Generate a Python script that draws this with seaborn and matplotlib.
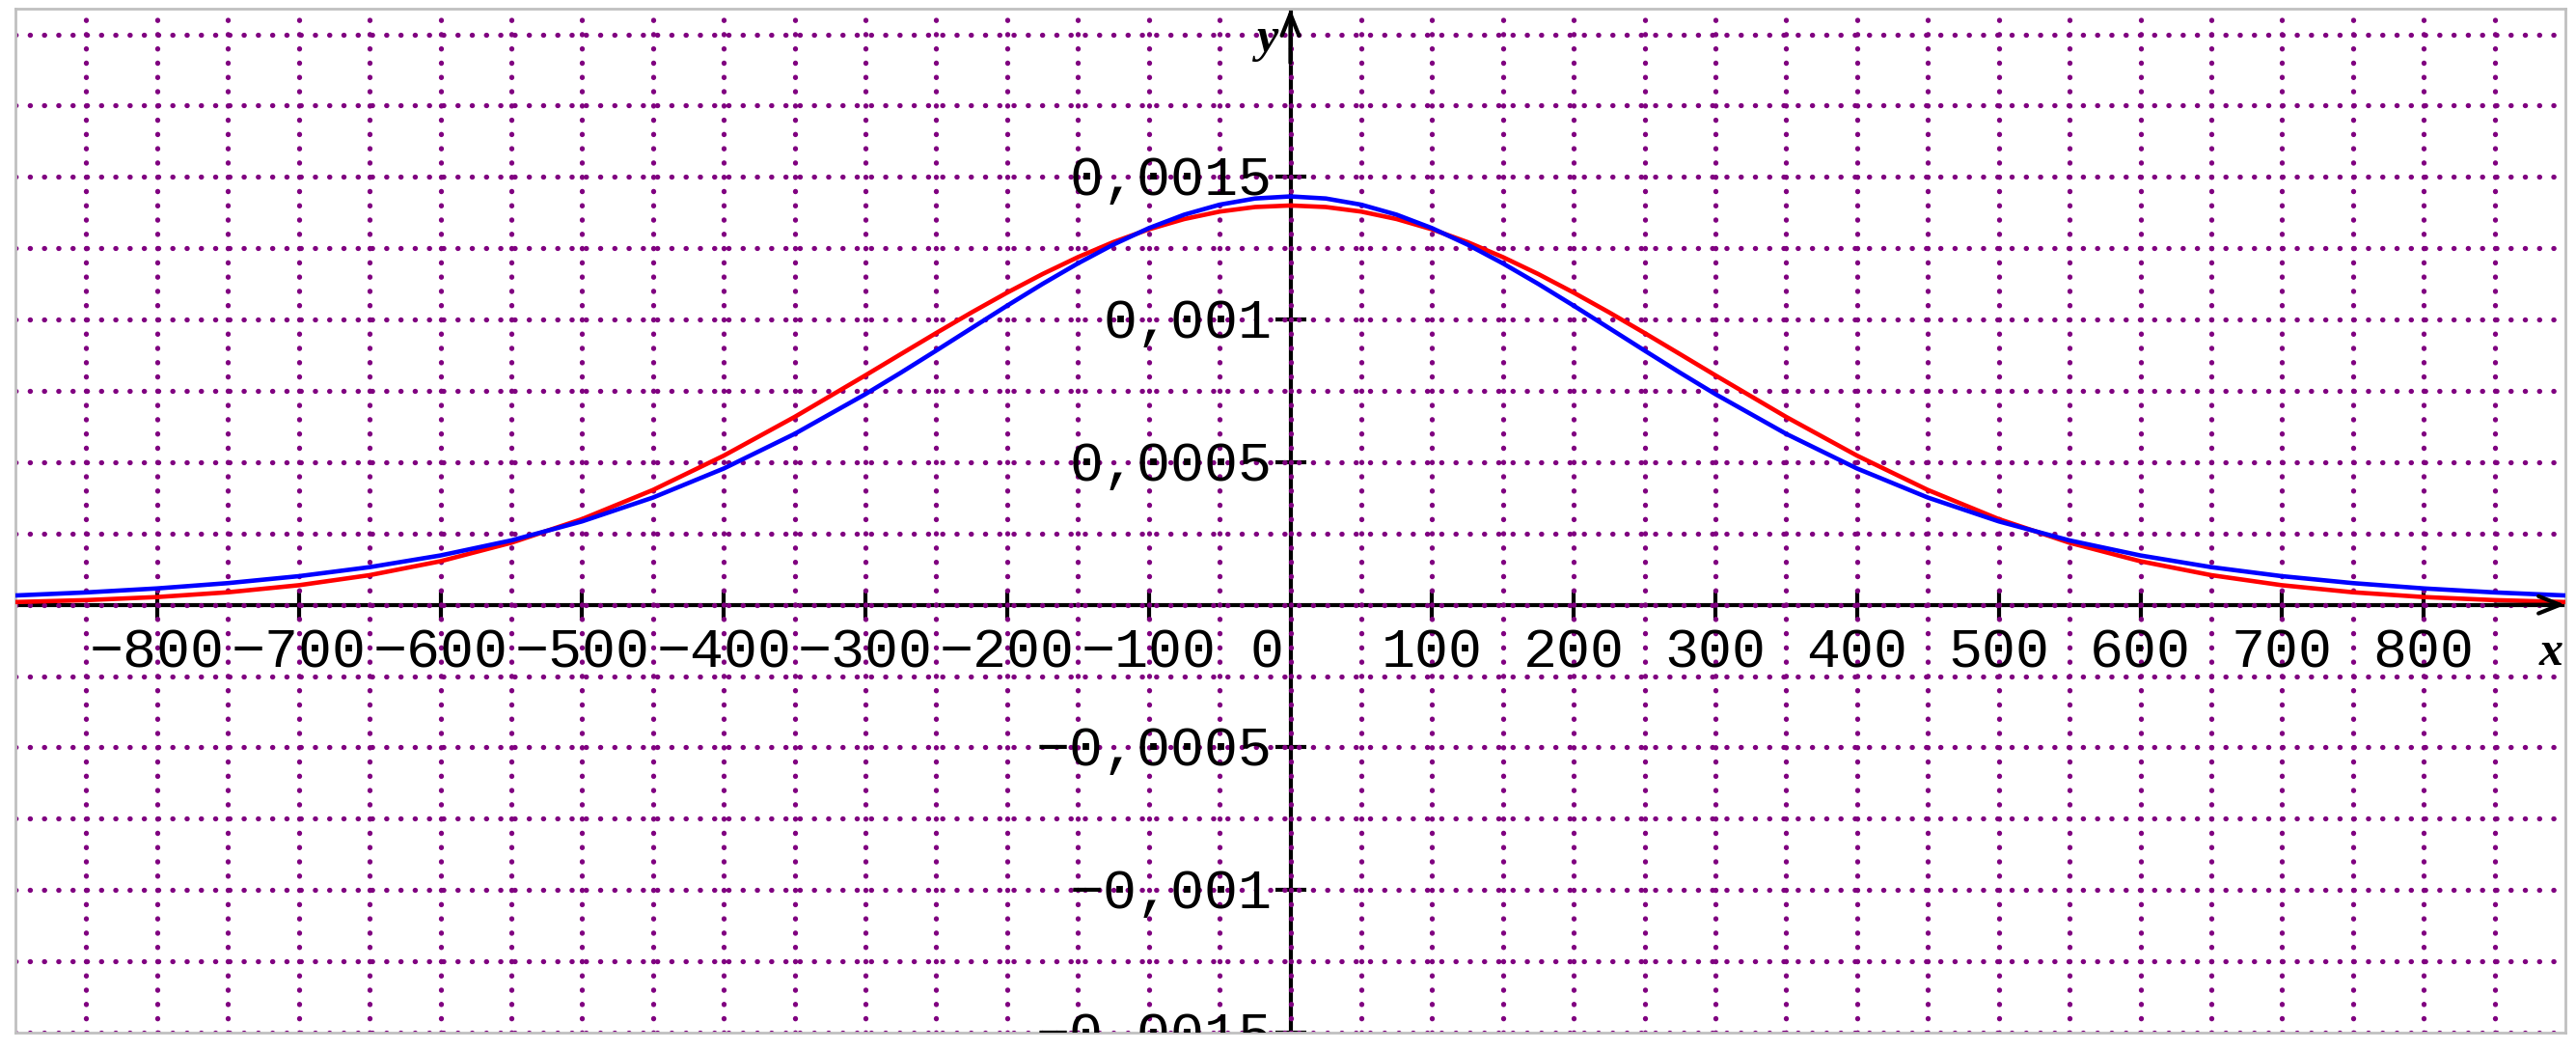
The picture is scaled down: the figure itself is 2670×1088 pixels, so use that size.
import numpy as np
import pandas as pd
import matplotlib
matplotlib.use("Agg")
import matplotlib.pyplot as plt
import matplotlib.transforms as mtransforms
import seaborn as sns

# values
x_vals = [-910, -900, -850, -800, -750, -700, -650, -600, -550, -500, -450, -400, -350,
          -300, -275, -250, -225, -200, -175, -150, -125, -100, -75, -50, -25, 0,
          25, 50, 75, 100, 125, 150, 175, 200, 225, 250, 275, 300,
          350, 400, 450, 500, 550, 600, 650, 700, 750, 800, 850, 900, 910]

red_vals = [0.086e-4, 0.096e-4, 0.164e-4, 0.272e-4, 0.439e-4, 0.686e-4, 1.039e-4, 1.527e-4,
            2.175e-4, 3.005e-4, 4.025e-4, 5.229e-4, 6.586e-4,
            8.045e-4, 8.789e-4, 9.529e-4, 10.252e-4, 10.944e-4, 11.595e-4, 12.189e-4,
            12.716e-4, 13.164e-4, 13.524e-4, 13.786e-4, 13.946e-4, 14.000e-4,
            13.946e-4, 13.786e-4, 13.524e-4, 13.164e-4, 12.716e-4, 12.189e-4, 11.595e-4,
            10.944e-4, 10.252e-4, 9.529e-4, 8.789e-4, 8.045e-4,
            6.586e-4, 5.229e-4, 4.025e-4, 3.005e-4, 2.175e-4, 1.527e-4, 1.039e-4,
            0.686e-4, 0.439e-4, 0.272e-4, 0.164e-4, 0.096e-4, 0.086e-4]

blue_vals = [0.309e-4, 0.327e-4, 0.434e-4, 0.574e-4, 0.760e-4, 1.003e-4, 1.320e-4, 1.730e-4,
             2.257e-4, 2.925e-4, 3.759e-4, 4.778e-4, 5.992e-4,
             7.386e-4, 8.138e-4, 8.914e-4, 9.701e-4, 10.486e-4, 11.249e-4, 11.970e-4,
             12.629e-4, 13.205e-4, 13.677e-4, 14.028e-4, 14.245e-4, 14.318e-4,
             14.245e-4, 14.028e-4, 13.677e-4, 13.205e-4, 12.629e-4, 11.970e-4, 11.249e-4,
             10.486e-4, 9.701e-4, 8.914e-4, 8.138e-4, 7.386e-4,
             5.992e-4, 4.778e-4, 3.759e-4, 2.925e-4, 2.257e-4, 1.730e-4, 1.320e-4,
             1.003e-4, 0.760e-4, 0.574e-4, 0.434e-4, 0.327e-4, 0.309e-4]

x_ticks = [-800, -700, -600, -500, -400, -300, -200, -100,
           100, 200, 300, 400, 500, 600, 700, 800]
x_tick_labels = ["\u2212800", "\u2212700", "\u2212600", "\u2212500", "\u2212400",
                 "\u2212300", "\u2212200", "\u2212100",
                 "100", "200", "300", "400", "500", "600", "700", "800"]
y_ticks = [0.0015, 0.001, 0.0005, -0.0005, -0.001, -0.0015]
y_tick_labels = ["0,0015", "0,001", "0,0005", "\u22120,0005", "\u22120,001", "\u22120,0015"]

df = pd.DataFrame({
    "x": x_vals * 2,
    "y": red_vals + blue_vals,
    "curve": ["red"] * len(x_vals) + ["blue"] * len(x_vals),
})

sns.set_style("white")

fig = plt.figure(figsize=(26.7, 10.88), dpi=100)
ax = fig.add_axes([16 / 2670, 18 / 1088, 2643 / 2670, 1061 / 1088])

sns.lineplot(data=df, x="x", y="y", hue="curve", hue_order=["red", "blue"],
             palette={"red": "#ff0000", "blue": "#0000ff"}, linewidth=3.3,
             legend=False, ax=ax, zorder=3)

ax.set_xlim(-900, 900)
ax.set_ylim(-0.0015, 0.00209)
ax.set_xlabel("")
ax.set_ylabel("")

# dotted purple grid
ax.set_xticks(np.arange(-850, 851, 50))
ax.set_yticks(np.arange(-0.0015, 0.00201, 0.00025))
ax.tick_params(length=0, labelbottom=False, labelleft=False)
ax.set_axisbelow("line")
ax.grid(True, color="#800080", linewidth=3.8, linestyle=(0, (0.05, 2.75)),
        dash_capstyle="round")

for sp in ax.spines.values():
    sp.set_color("#c0c0c0")
    sp.set_linewidth(2)

# axes through the origin
ax.axhline(0, color="k", lw=3.0, zorder=1)
ax.axvline(0, color="k", lw=3.0, zorder=1)
ax.plot(x_ticks, [0] * len(x_ticks), ls="none", marker="|", ms=23, mew=3.0,
        color="k", zorder=1, clip_on=False)
ax.plot([0] * len(y_ticks), y_ticks, ls="none", marker="_", ms=23, mew=3.0,
        color="k", zorder=1)

arrow = dict(arrowstyle="->,head_length=0.4,head_width=0.16", mutation_scale=40,
             lw=3.0, color="k", shrinkA=0, shrinkB=0)
ax.annotate("", xy=(900, 0), xytext=(850, 0), arrowprops=arrow, annotation_clip=False)
ax.annotate("", xy=(0, 0.00209), xytext=(0, 0.0019), arrowprops=arrow,
            annotation_clip=False)

mono = dict(family="Liberation Mono", fontsize=42, color="k")
off_x = mtransforms.offset_copy(ax.transData, x=0, y=-65, units="dots")
for xt, lab in zip(x_ticks, x_tick_labels):
    ax.text(xt, 0, lab, transform=off_x, ha="center", va="baseline", clip_on=True, **mono)
ax.text(0, 0, "0", transform=mtransforms.offset_copy(ax.transData, x=-7, y=-65, units="dots"),
        ha="right", va="baseline", clip_on=True, **mono)

off_y = mtransforms.offset_copy(ax.transData, x=-19, y=-19, units="dots")
for yt, lab in zip(y_ticks, y_tick_labels):
    ax.text(0, yt, lab, transform=off_y, ha="right", va="baseline", clip_on=True, **mono)

serif = dict(family="Liberation Serif", fontsize=36, weight="bold", style="italic", color="k")
ax.text(900, 0, "x", transform=mtransforms.offset_copy(ax.transData, x=-2, y=-62, units="dots"),
        ha="right", va="baseline", **serif)
ax.text(0, 0.00194, "y", transform=mtransforms.offset_copy(ax.transData, x=-12, y=0, units="dots"),
        ha="right", va="baseline", **serif)

fig.savefig("out.png", dpi=100, facecolor="white")
